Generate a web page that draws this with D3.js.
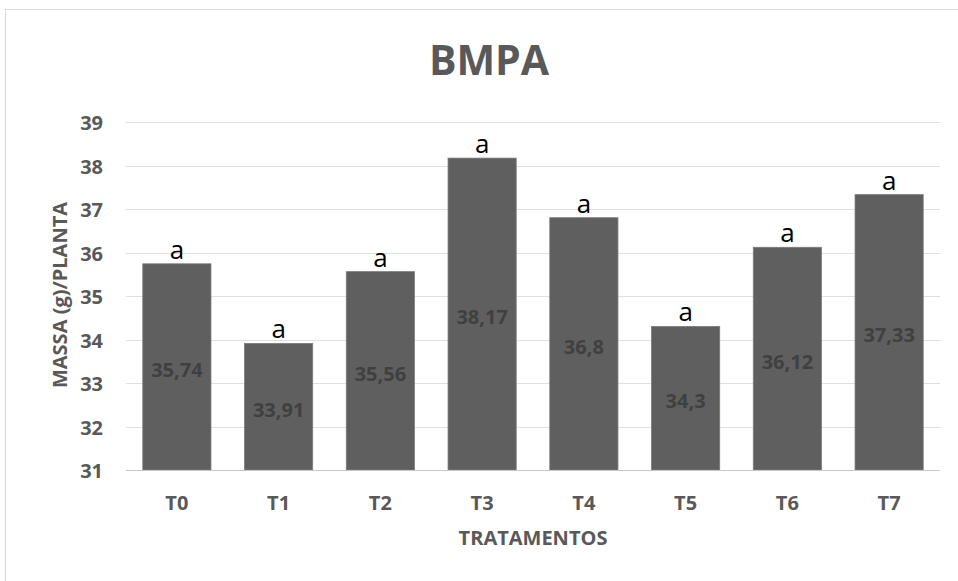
<!DOCTYPE html>
<html>
<head>
<meta charset="utf-8">
<script src="https://cdn.jsdelivr.net/npm/d3@7"></script>
<style>
  html, body { margin: 0; padding: 0; background: #fff; }
  svg { display: block; font-family: "Open Sans", sans-serif; }
</style>
</head>
<body>
<svg id="chart" width="958" height="581"></svg>
<script>
// Treatments and mean plant mass (g) with their significance letters
const categories = ["T0", "T1", "T2", "T3", "T4", "T5", "T6", "T7"];
const values = [35.74, 33.91, 35.56, 38.17, 36.8, 34.3, 36.12, 37.33];
const letters = ["a", "a", "a", "a", "a", "a", "a", "a"];
const yTicks = [31, 32, 33, 34, 35, 36, 37, 38, 39];

const svg = d3.select("#chart");
const margin = { left: 126, right: 18, top: 122, bottom: 111 };
const W = 958, H = 581;
const FONT = "'Open Sans', sans-serif";

// chart frame
svg.append("rect")
  .attr("x", 5.5).attr("y", 9.5)
  .attr("width", 980).attr("height", 600)
  .attr("fill", "#fff").attr("stroke", "#d9d9d9");

const x = d3.scaleBand()
  .domain(categories)
  .range([margin.left, W - margin.right])
  .paddingInner(0.33).paddingOuter(0.165);

const y = d3.scaleLinear()
  .domain([31, 39])
  .range([H - margin.bottom, margin.top]);

// horizontal gridlines
svg.append("g")
  .selectAll("line")
  .data(yTicks.slice(1))
  .join("line")
  .attr("x1", margin.left).attr("x2", W - margin.right)
  .attr("y1", d => Math.round(y(d)) + 0.5).attr("y2", d => Math.round(y(d)) + 0.5)
  .attr("stroke", "#e0e0e0").attr("stroke-width", 1);

// y axis labels
const yAxis = d3.axisLeft(y).tickValues(yTicks).tickSize(0).tickPadding(23);
const gy = svg.append("g").attr("transform", `translate(${margin.left},0)`).call(yAxis);
gy.select(".domain").remove();
gy.selectAll("text")
  .attr("dy", "0.38em")
  .attr("fill", "#595959").attr("font-size", 20).attr("font-weight", 700)
  .attr("font-family", FONT);

// bars
svg.append("g")
  .selectAll("rect")
  .data(values)
  .join("rect")
  .attr("x", (d, i) => x(categories[i]))
  .attr("y", d => y(d))
  .attr("width", x.bandwidth())
  .attr("height", d => y(31) - y(d))
  .attr("fill", "#5f5f5f")
  .attr("stroke", "#7a7a7a").attr("stroke-width", 0.8);

// baseline
svg.append("line")
  .attr("x1", margin.left).attr("x2", W - margin.right)
  .attr("y1", Math.round(y(31)) + 0.5).attr("y2", Math.round(y(31)) + 0.5)
  .attr("stroke", "#c8c8c8").attr("stroke-width", 1.2);

// x axis labels
const xAxis = d3.axisBottom(x).tickSize(0).tickPadding(26);
const gx = svg.append("g").attr("transform", `translate(0,${y(31)})`).call(xAxis);
gx.select(".domain").remove();
gx.selectAll("text")
  .attr("fill", "#595959").attr("font-size", 20).attr("font-weight", 700)
  .attr("font-family", FONT);

// value labels centred inside bars
svg.append("g")
  .selectAll("text")
  .data(values)
  .join("text")
  .attr("x", (d, i) => x(categories[i]) + x.bandwidth() / 2)
  .attr("y", d => (y(d) + y(31)) / 2)
  .attr("dy", "0.5em")
  .attr("text-anchor", "middle")
  .attr("fill", "#404040").attr("font-size", 20).attr("font-weight", 700)
  .text(d => String(d).replace(".", ","));

// significance letters above bars
svg.append("g")
  .selectAll("text")
  .data(values)
  .join("text")
  .attr("x", (d, i) => x(categories[i]) + x.bandwidth() / 2)
  .attr("y", d => y(d) - 5)
  .attr("text-anchor", "middle")
  .attr("fill", "#000").attr("font-size", 26)
  .text((d, i) => letters[i]);

// title
svg.append("text")
  .attr("x", 489).attr("y", 75)
  .attr("text-anchor", "middle")
  .attr("fill", "#595959").attr("font-size", 41).attr("font-weight", 700)
  .text("BMPA");

// axis titles
svg.append("text")
  .attr("x", (margin.left + W - margin.right) / 2).attr("y", 545)
  .attr("text-anchor", "middle")
  .attr("fill", "#595959").attr("font-size", 20).attr("font-weight", 700)
  .text("TRATAMENTOS");

svg.append("text")
  .attr("transform", "translate(67,295) rotate(-90)")
  .attr("text-anchor", "middle")
  .attr("fill", "#595959").attr("font-size", 20).attr("font-weight", 700)
  .text("MASSA (g)/PLANTA");
</script>
</body>
</html>
